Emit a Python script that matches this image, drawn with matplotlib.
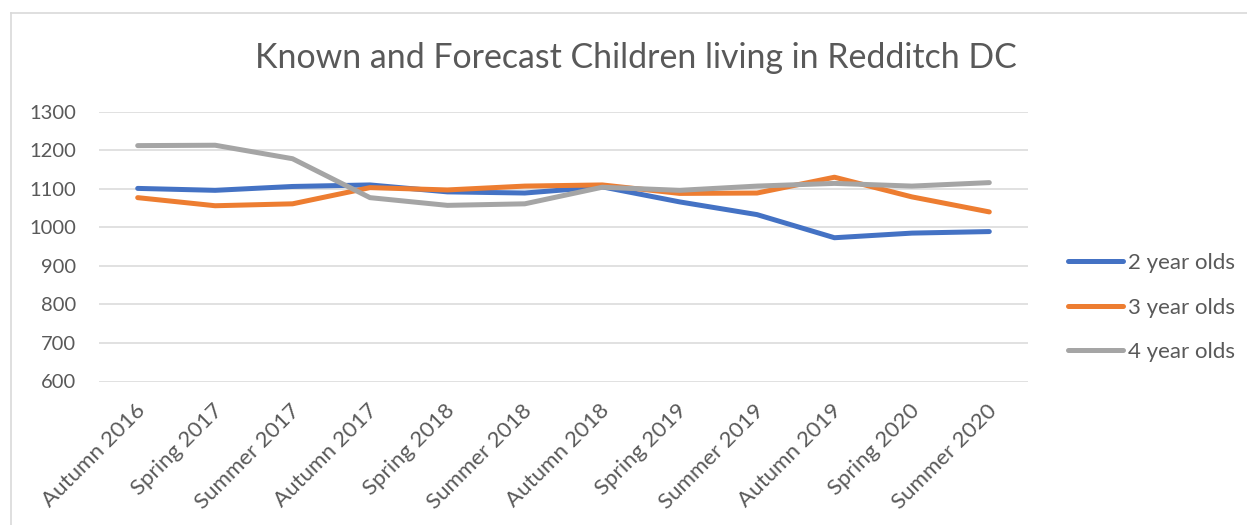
import matplotlib.pyplot as plt
import matplotlib.transforms as mtransforms

# data ----------------------------------------------------------------------------------------------------------------

seasons = ['Autumn 2016', 'Spring 2017', 'Summer 2017', 'Autumn 2017', 'Spring 2018', 'Summer 2018',
           'Autumn 2018', 'Spring 2019', 'Summer 2019', 'Autumn 2019', 'Spring 2020', 'Summer 2020']
twoYearOlds = [1101, 1096, 1106, 1110, 1092, 1089, 1105, 1066, 1033, 973, 985, 989]
threeYearOlds = [1077, 1056, 1061, 1103, 1097, 1107, 1110, 1088, 1089, 1130, 1079, 1040]
fourYearOlds = [1212, 1213, 1178, 1077, 1057, 1061, 1104, 1096, 1107, 1114, 1107, 1116]
seriesNames = ['2 year olds', '3 year olds', '4 year olds']
yTicks = [600, 700, 800, 900, 1000, 1100, 1200, 1300]

# figure and panel ----------------------------------------------------------------------------------------------------

figureWidth = 12.47
figureHeight = 5.25
fig = plt.figure(figsize=(figureWidth, figureHeight), dpi=100)

textColor = '#595959'
plt.rcParams['font.family'] = ['Lato', 'DejaVu Sans']

# panel position in pixels -> relative
left, right, top, bottom = 99, 1028, 111.7, 381.5
panel1 = plt.axes([left / 1247, 1 - bottom / 525, (right - left) / 1247, (bottom - top) / 525])

# chart area border (only top and left show in the crop)
fig.add_artist(plt.Line2D([11 / 1247, 11 / 1247], [0, 1 - 13 / 525], transform=fig.transFigure,
                          color='#D9D9D9', linewidth=1.2))
fig.add_artist(plt.Line2D([11 / 1247, 1], [1 - 13 / 525, 1 - 13 / 525], transform=fig.transFigure,
                          color='#D9D9D9', linewidth=1.2))

xs = list(range(len(seasons)))
colors = ['#4472C4', '#ED7D31', '#A5A5A5']
for values, name, color in zip([twoYearOlds, threeYearOlds, fourYearOlds], seriesNames, colors):
    panel1.plot(xs, values, color=color, linewidth=3.6, solid_capstyle='round',
                solid_joinstyle='round', label=name, zorder=3)

panel1.set_xlim(-0.5, len(seasons) - 0.5)
panel1.set_ylim(600, 1300)
panel1.set_yticks(yTicks)
panel1.set_xticks(xs)
panel1.set_xticklabels(seasons, rotation=45, ha='right', rotation_mode='anchor')

panel1.grid(axis='y', color='#D9D9D9', linewidth=1.1)
panel1.set_axisbelow(True)
for spine in panel1.spines.values():
    spine.set_visible(False)
panel1.tick_params(axis='both', length=0, labelsize=14.5, labelcolor=textColor)
panel1.tick_params(axis='y', pad=16.5)
panel1.tick_params(axis='x', pad=10, labelsize=16)

# nudge the rotated labels a little, like Excel places them
shift = mtransforms.ScaledTranslation(-3 / 100, -5 / 100, fig.dpi_scale_trans)
for label in panel1.get_xticklabels():
    label.set_transform(label.get_transform() + shift)

fig.text(636 / 1247, 1 - 58 / 525, 'Known and Forecast Children living in Redditch DC',
         ha='center', va='center', fontsize=24.4, color=textColor)

panel1.legend(loc='center left', bbox_to_anchor=(1048 / 1247, 1 - 307.5 / 525),
              bbox_transform=fig.transFigure, frameon=False, fontsize=16,
              labelcolor=textColor, handlelength=2.47, handletextpad=0.22, labelspacing=1.11)

plt.savefig('out.png', dpi=100)
